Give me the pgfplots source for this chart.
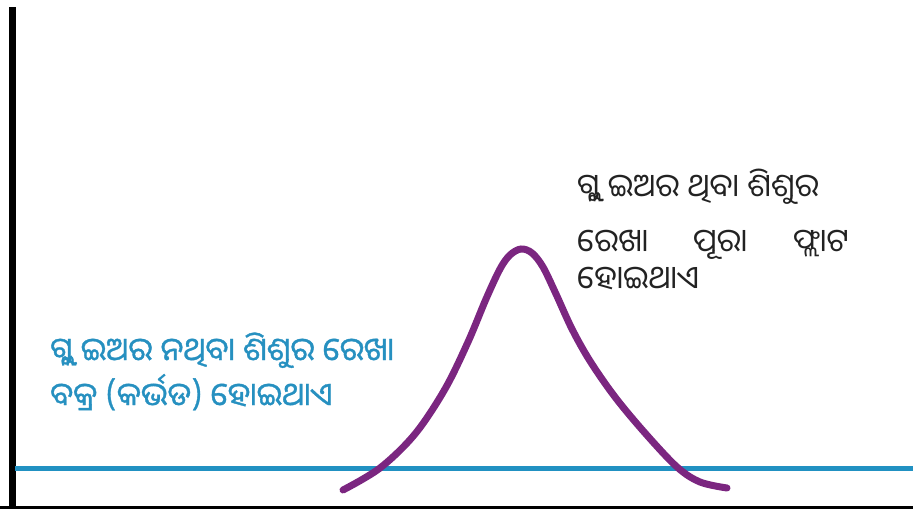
\documentclass[border=0pt]{standalone}
\usepackage{fontspec}
\usepackage{pgfplots}
\pgfplotsset{compat=1.18}
\newfontfamily\odia[Script=Oriya]{Noto Sans Oriya UI}
\newfontfamily\odiab[Script=Oriya,FakeBold=1.0]{Noto Sans Oriya UI}
\definecolor{lineblue}{RGB}{33,145,194}
\definecolor{txtblue}{RGB}{38,144,192}
\definecolor{curvepurple}{RGB}{123,38,128}
\definecolor{txtdark}{RGB}{34,34,34}
\begin{document}
\begin{tikzpicture}
\begin{axis}[
  scale only axis, width=913pt, height=509pt,
  xmin=0, xmax=913, ymin=0, ymax=509,
  hide axis, clip=false,
]
\path[use as bounding box] (axis cs:0,0) rectangle (axis cs:913,509);
% frame lines
\addplot[black, line width=2.5pt, forget plot] coordinates {(0,1.5) (913,1.5)};
\addplot[black, line width=7pt, forget plot] coordinates {(12,0) (12,502)};
% flat (blue) line
\addplot[lineblue, line width=5.5pt, forget plot] coordinates {(15,40.5) (913,40.5)};
% curved (purple) line
\addplot[curvepurple, line width=7pt, line cap=round, smooth, tension=0.55, forget plot] coordinates {
(343,19) (380,41) (415,75) (445,120) (468,167) (486,210) (500,240) (510,254) (521,260)
(532,256) (543,242) (556,215) (572,180) (590,148) (615,112) (645,76) (677,42) (700,27) (727,21)};
% labels
\node[anchor=base west, inner sep=0pt, text=txtblue, font=\odiab\fontsize{32}{38}\selectfont] at (axis cs:50,146) {ଗ୍ଲୁ ଇଅର ନଥିବା ଶିଶୁର ରେଖା};
\node[anchor=base west, inner sep=0pt, text=txtblue, font=\odiab\fontsize{32}{38}\selectfont] at (axis cs:50,101) {ବକ୍ର (କର୍ଭଡ) ହୋଇଥାଏ};
\node[anchor=base west, inner sep=0pt, text=txtdark, font=\odia\fontsize{32}{38}\selectfont] at (axis cs:577,309) {ଗ୍ଲୁ ଇଅର ଥିବା ଶିଶୁର};
\node[anchor=base west, inner sep=0pt, text=txtdark, font=\odia\fontsize{32}{38}\selectfont] at (axis cs:577,254) {ରେଖା};
\node[anchor=base west, inner sep=0pt, text=txtdark, font=\odia\fontsize{32}{38}\selectfont] at (axis cs:693,254) {ପୂରା};
\node[anchor=base west, inner sep=0pt, text=txtdark, font=\odia\fontsize{32}{38}\selectfont] at (axis cs:793,254) {ଫ୍ଲାଟ};
\node[anchor=base west, inner sep=0pt, text=txtdark, font=\odia\fontsize{32}{38}\selectfont] at (axis cs:577,217) {ହୋଇଥାଏ};
\end{axis}
\end{tikzpicture}
\end{document}
